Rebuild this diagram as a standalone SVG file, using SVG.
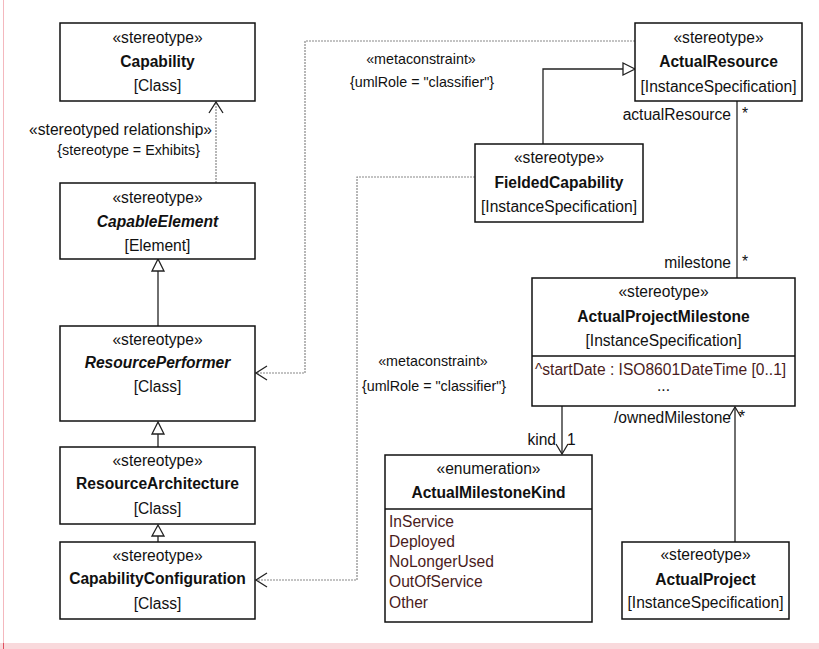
<svg xmlns="http://www.w3.org/2000/svg" width="819" height="649" viewBox="0 0 819 649">
<style>
text{font-family:"Liberation Sans",Arial,sans-serif;font-size:15.6px;fill:#111}
.c{text-anchor:middle}
.e{text-anchor:end}
.b{font-weight:bold}
.bi{font-weight:bold;font-style:italic}
.s{font-size:14.3px}
.a{fill:#4a1c1c}
.box{fill:#fff;stroke:#111;stroke-width:1.5}
.ln{fill:none;stroke:#222;stroke-width:1.3}
.dl{fill:none;stroke:#888;stroke-width:1.2;stroke-dasharray:2 1}
.tri{fill:#fff;stroke:#222;stroke-width:1.3}
.oa{fill:none;stroke:#222;stroke-width:1.3}
</style>
<rect width="819" height="649" fill="#fff"/>
<line x1="3.5" y1="0" x2="3.5" y2="643" stroke="#f4b8be" stroke-width="1"/>
<rect x="0" y="643" width="819" height="6" fill="#f9d9dc"/>
<line x1="3.5" y1="643" x2="3.5" y2="649" stroke="#e05060" stroke-width="1"/>

<g id="connectors">
  <!-- Exhibits -->
  <line class="dl" x1="216" y1="183" x2="216" y2="102"/>
  <polyline class="oa" points="209,113 216,102 223,113"/>
  <text class="e" x="212" y="135">«stereotyped relationship»</text>
  <text class="e s" x="200" y="155">{stereotype = Exhibits}</text>
  <!-- generalizations -->
  <line class="ln" x1="158" y1="326" x2="158" y2="271"/>
  <polygon class="tri" points="158,259 152,271 164,271"/>
  <line class="ln" x1="158" y1="447" x2="158" y2="434"/>
  <polygon class="tri" points="158,422 152,434 164,434"/>
  <line class="ln" x1="158" y1="542" x2="158" y2="536"/>
  <polygon class="tri" points="158,525 152,536 164,536"/>
  <polyline class="ln" points="543,144 543,69 623,69"/>
  <polygon class="tri" points="635,69 623,63 623,75"/>
  <!-- metaconstraint top -->
  <polyline class="dl" points="635,41 305,41 305,373 256,373"/>
  <polyline class="oa" points="267,366 256,373 267,380"/>
  <text class="c s" x="421" y="64">«metaconstraint»</text>
  <text class="c s" x="422" y="87">{umlRole = "classifier"}</text>
  <!-- metaconstraint bottom -->
  <polyline class="dl" points="475,177 357,177 357,580 256,580"/>
  <polyline class="oa" points="267,573 256,580 267,587"/>
  <text class="c s" x="433" y="366">«metaconstraint»</text>
  <text class="c s" x="434" y="391">{umlRole = "classifier"}</text>
  <!-- association actualResource / milestone -->
  <line class="ln" x1="737" y1="101" x2="737" y2="278"/>
  <text class="e" x="731" y="120">actualResource</text>
  <text x="742" y="119">*</text>
  <text class="e" x="731" y="268">milestone</text>
  <text x="742" y="267">*</text>
  <!-- kind -->
  <line class="ln" x1="562" y1="406" x2="562" y2="454"/>
  <polyline class="oa" points="556,444 562,454 568,444"/>
  <text class="e" x="556" y="445">kind</text>
  <text x="567" y="445">1</text>
  <!-- ownedMilestone -->
  <line class="ln" x1="735" y1="542" x2="735" y2="407"/>
  <polyline class="oa" points="729,417 735,407 741,417"/>
  <text class="e" x="731" y="423">/ownedMilestone</text>
  <text x="739" y="422">*</text>
</g>

<g id="Capability">
  <rect class="box" x="60" y="23" width="195" height="78"/>
  <text class="c" x="157.5" y="43">«stereotype»</text>
  <text class="c b" x="157.5" y="67">Capability</text>
  <text class="c" x="157.5" y="91">[Class]</text>
</g>
<g id="CapableElement">
  <rect class="box" x="60" y="183" width="195" height="76"/>
  <text class="c" x="157.5" y="203">«stereotype»</text>
  <text class="c bi" x="157.5" y="227">CapableElement</text>
  <text class="c" x="157.5" y="251">[Element]</text>
</g>
<g id="ResourcePerformer">
  <rect class="box" x="60" y="326" width="195" height="95"/>
  <text class="c" x="157.5" y="345">«stereotype»</text>
  <text class="c bi" x="157.5" y="368">ResourcePerformer</text>
  <text class="c" x="157.5" y="392">[Class]</text>
</g>
<g id="ResourceArchitecture">
  <rect class="box" x="60" y="447" width="195" height="77"/>
  <text class="c" x="157.5" y="466">«stereotype»</text>
  <text class="c b" x="157.5" y="489">ResourceArchitecture</text>
  <text class="c" x="157.5" y="514">[Class]</text>
</g>
<g id="CapabilityConfiguration">
  <rect class="box" x="60" y="542" width="195" height="77"/>
  <text class="c" x="157.5" y="561">«stereotype»</text>
  <text class="c b" x="157.5" y="584">CapabilityConfiguration</text>
  <text class="c" x="157.5" y="609">[Class]</text>
</g>
<g id="ActualResource">
  <rect class="box" x="635" y="23" width="167" height="78"/>
  <text class="c" x="718.5" y="43">«stereotype»</text>
  <text class="c b" x="718.5" y="67">ActualResource</text>
  <text class="c" x="718.5" y="92">[InstanceSpecification]</text>
</g>
<g id="FieldedCapability">
  <rect class="box" x="475" y="144" width="168" height="78"/>
  <text class="c" x="559" y="163">«stereotype»</text>
  <text class="c b" x="559" y="188">FieldedCapability</text>
  <text class="c" x="559" y="212">[InstanceSpecification]</text>
</g>
<g id="ActualProjectMilestone">
  <rect class="box" x="532" y="278" width="263" height="128"/>
  <line x1="532" y1="356" x2="795" y2="356" stroke="#111" stroke-width="1.5"/>
  <text class="c" x="663.5" y="297">«stereotype»</text>
  <text class="c b" x="663.5" y="322">ActualProjectMilestone</text>
  <text class="c" x="663.5" y="346">[InstanceSpecification]</text>
  <text class="a" x="535" y="375">^startDate : ISO8601DateTime [0..1]</text>
  <text class="c" x="663.5" y="391">...</text>
</g>
<g id="ActualMilestoneKind">
  <rect class="box" x="385" y="455" width="207" height="167"/>
  <line x1="385" y1="509" x2="592" y2="509" stroke="#111" stroke-width="1.5"/>
  <text class="c" x="488.5" y="474">«enumeration»</text>
  <text class="c b" x="488.5" y="498">ActualMilestoneKind</text>
  <text class="a" x="389" y="527">InService</text>
  <text class="a" x="389" y="547">Deployed</text>
  <text class="a" x="389" y="567">NoLongerUsed</text>
  <text class="a" x="389" y="587">OutOfService</text>
  <text class="a" x="389" y="608">Other</text>
</g>
<g id="ActualProject">
  <rect class="box" x="622" y="542" width="167" height="77"/>
  <text class="c" x="705.5" y="560">«stereotype»</text>
  <text class="c b" x="705.5" y="585">ActualProject</text>
  <text class="c" x="705.5" y="608">[InstanceSpecification]</text>
</g>
</svg>
